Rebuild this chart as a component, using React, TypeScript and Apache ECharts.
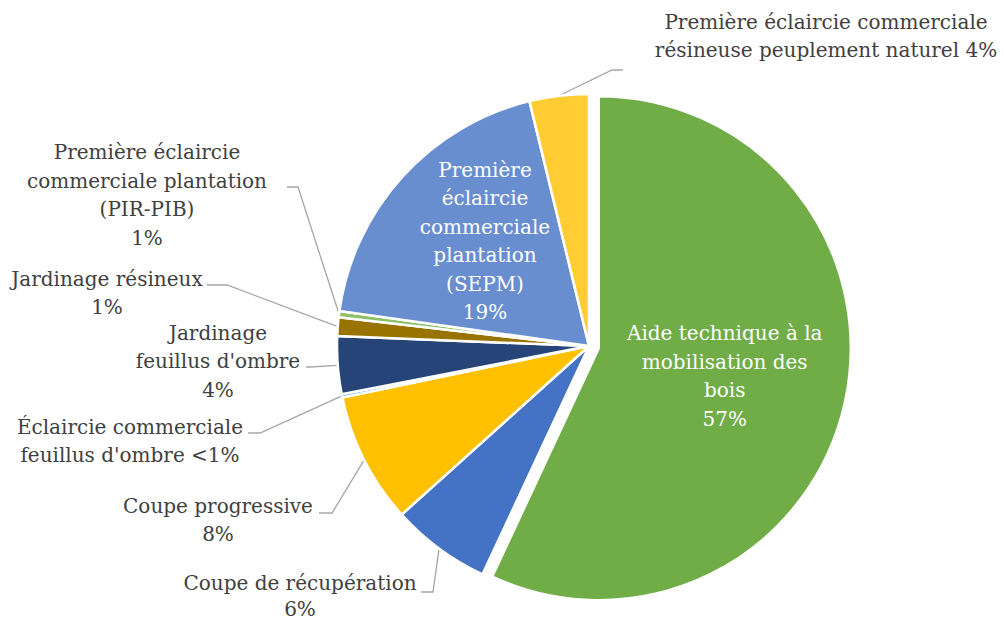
import React, { useEffect, useRef } from 'react';
import * as echarts from 'echarts';

// ---- Data ----
const categories = [
  'Aide technique à la mobilisation des bois',
  'Coupe de récupération',
  'Coupe progressive',
  "Éclaircie commerciale feuillus d'ombre",
  "Jardinage feuillus d'ombre",
  'Jardinage résineux',
  'Première éclaircie commerciale plantation (PIR-PIB)',
  'Première éclaircie commerciale plantation (SEPM)',
  'Première éclaircie commerciale résineuse peuplement naturel',
];
const values = [57.0, 6.4, 8.4, 0.2, 3.7, 1.2, 0.4, 19.0, 3.8];
const percentLabels = ['57%', '6%', '8%', '<1%', '4%', '1%', '1%', '19%', '4%'];
// label text as displayed ("%p" is replaced by the percentage label)
const labelTemplates = [
  'Aide technique à la\nmobilisation des\nbois\n%p',
  'Coupe de récupération\n%p',
  'Coupe progressive\n%p',
  "Éclaircie commerciale\nfeuillus d'ombre %p",
  "Jardinage\nfeuillus d'ombre\n%p",
  'Jardinage résineux\n%p',
  'Première éclaircie\ncommerciale plantation\n(PIR-PIB)\n%p',
  'Première\néclaircie\ncommerciale\nplantation\n(SEPM)\n%p',
  'Première éclaircie commerciale\nrésineuse peuplement naturel %p',
];
const colors = ['#70AD47', '#4472C4', '#FFC000', '#5B9BD5', '#264478', '#997300', '#8CC168', '#698ED0', '#FFCD33'];

// ---- Layout (label placement) ----
type LP = { x: number; y: number; inside?: boolean; bend?: number[]; end?: number[]; lh?: number };
const labelPlacement: LP[] = [
  { x: 726, y: 378, inside: true },
  { x: 300, y: 596, bend: [433, 592], end: [421, 592], lh: 26 },
  { x: 218, y: 520, bend: [332, 513], end: [319, 513] },
  { x: 130, y: 441, bend: [260, 433], end: [248, 433] },
  { x: 218, y: 361, bend: [310, 367], end: [306, 367] },
  { x: 107, y: 293, bend: [227, 285], end: [207, 285] },
  { x: 147, y: 195, bend: [298, 187], end: [287, 187] },
  { x: 485, y: 241, inside: true },
  { x: 826, y: 36, bend: [612, 70], end: [623, 70] },
];

const CENTER = [589, 346];
const RADIUS = 252;

export default function App() {
  const ref = useRef<HTMLDivElement>(null);
  useEffect(() => {
    if (!ref.current) return;
    const chart = echarts.init(ref.current, undefined, { renderer: 'svg' });
    const total = values.reduce((a, b) => a + b, 0);
    const cum: number[] = [];
    values.reduce((acc, v, i) => { cum[i] = acc; return acc + v; }, 0);

    chart.setOption({
      animation: false,
      series: [
        {
          type: 'pie',
          center: CENTER,
          radius: RADIUS,
          startAngle: 90,
          clockwise: true,
          avoidLabelOverlap: false,
          selectedMode: 'single',
          selectedOffset: 10,
          emphasis: { disabled: true },
          itemStyle: { borderColor: '#ffffff', borderWidth: 2.5 },
          label: {
            show: true,
            position: 'outside',
            fontFamily: 'DejaVu Serif',
            fontSize: 20,
            lineHeight: 28.5,
            color: '#404040',
            align: 'center',
            formatter: (p: any) => labelTemplates[p.dataIndex].replace('%p', percentLabels[p.dataIndex]),
          },
          labelLine: {
            show: true,
            length: 10,
            length2: 10,
            lineStyle: { color: '#A6A6A6', width: 1.3 },
          },
          labelLayout: (params: any) => {
            const i = params.dataIndex;
            const lp = labelPlacement[i];
            const res: any = { x: lp.x, y: lp.y, align: 'center', verticalAlign: 'middle' };
            if (!lp.inside && lp.bend && lp.end) {
              let anchor: number[];
              if (params.labelLinePoints && params.labelLinePoints[0]) {
                anchor = params.labelLinePoints[0];
              } else {
                const a = (Math.PI / 2) - ((cum[i] + values[i] / 2) / total) * Math.PI * 2;
                anchor = [CENTER[0] + RADIUS * Math.cos(a), CENTER[1] - RADIUS * Math.sin(a)];
              }
              res.labelLinePoints = [anchor, lp.bend, lp.end];
            }
            return res;
          },
          data: categories.map((c, i) => ({
            name: c,
            value: values[i],
            selected: i === 0,
            itemStyle: { color: colors[i] },
            label: {
              position: labelPlacement[i].inside ? 'inside' : 'outside',
              color: labelPlacement[i].inside ? '#ffffff' : '#404040',
              ...(labelPlacement[i].lh ? { lineHeight: labelPlacement[i].lh } : {}),
            },
            labelLine: { show: !labelPlacement[i].inside },
          })),
        },
      ],
    });
    return () => chart.dispose();
  }, []);
  return (
    <div
      ref={ref}
      style={{ position: 'fixed', left: 0, top: 0, width: 1003, height: 622, background: '#ffffff' }}
    />
  );
}
